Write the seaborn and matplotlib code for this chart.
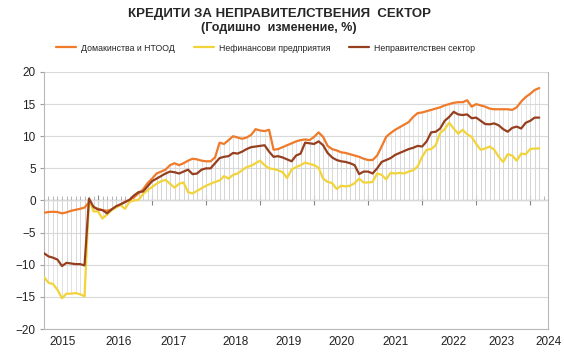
import numpy as np
import pandas as pd
import seaborn as sns
from matplotlib import pyplot as plt
from matplotlib.ticker import MultipleLocator

# monthly data, Jan 2015 - Mar 2024 (annual change, %)
households = [
    -1.9, -1.8, -1.75, -1.8, -2.0, -1.85, -1.6, -1.45, -1.3, -1.1,
    -0.3, -1.0,
    -1.3, -1.5, -1.6, -1.4, -1.0, -0.6, -0.2, 0.1, 0.5, 1.1, 1.7, 2.7,
    3.4, 4.2, 4.5, 4.8, 5.5, 5.8, 5.5, 5.8, 6.2, 6.5, 6.4, 6.2,
    6.1, 6.1, 6.7, 9.0, 8.8, 9.4, 10.0, 9.8, 9.6, 9.8, 10.2, 11.1,
    10.9, 10.8, 11.0, 7.9, 8.0, 8.3, 8.6, 8.9, 9.2, 9.4, 9.5, 9.4,
    9.9, 10.6, 9.9, 8.5, 8.0, 7.8, 7.5, 7.4, 7.2, 7.0, 6.8, 6.5,
    6.3, 6.3, 7.0, 8.4, 9.9, 10.5, 11.0, 11.4, 11.8, 12.2, 13.0, 13.6,
    13.7, 13.9, 14.1, 14.3, 14.5, 14.8, 15.0, 15.2, 15.3, 15.3, 15.6, 14.6,
    15.0, 14.8, 14.6, 14.3, 14.2, 14.2, 14.2, 14.2, 14.1, 14.5, 15.4, 16.1,
    16.6, 17.2, 17.5,
]
corporates = [
    -11.9, -12.8, -13.0, -13.9, -15.2, -14.5, -14.5, -14.4, -14.6, -14.9,
    0.2, -1.7,
    -1.7, -2.8, -2.2, -1.5, -1.1, -0.7, -1.3, -0.2, 0.0, 0.1, 1.0, 1.6,
    2.1, 2.6, 3.0, 3.2, 2.6, 2.0, 2.6, 2.8, 1.3, 1.1, 1.5, 1.9,
    2.3, 2.6, 2.9, 3.1, 3.8, 3.4, 4.0, 4.2, 4.7, 5.2, 5.4, 5.8,
    6.2, 5.5, 5.0, 4.9, 4.7, 4.4, 3.5, 4.8, 5.2, 5.5, 5.9, 5.7,
    5.5, 5.1, 3.4, 2.9, 2.7, 1.8, 2.3, 2.2, 2.3, 2.7, 3.4, 2.8,
    2.8, 2.9, 4.2, 4.0, 3.3, 4.3, 4.2, 4.3, 4.2, 4.5, 4.7, 5.3,
    6.8, 7.9, 8.0, 8.6, 10.5, 11.1, 12.1, 11.2, 10.4, 11.0, 10.3, 9.9,
    8.8, 7.9, 8.1, 8.4, 7.9, 6.8, 6.0, 7.2, 7.0, 6.2, 7.3, 7.2,
    8.0, 8.1, 8.1,
]
nongov = [
    -8.2, -8.7, -8.9, -9.2, -10.2, -9.7, -9.8, -9.9, -9.9, -10.1,
    0.3, -1.0,
    -1.4, -1.5, -2.0, -1.4, -0.9, -0.6, -0.25, 0.1, 0.8, 1.3, 1.4, 2.2,
    3.0, 3.4, 3.8, 4.2, 4.5, 4.4, 4.2, 4.5, 4.8, 4.1, 4.2, 4.8,
    5.0, 5.0, 5.8, 6.6, 6.8, 6.9, 7.4, 7.3, 7.6, 8.0, 8.3, 8.4,
    8.5, 8.6, 7.6, 6.8, 6.9, 6.7, 6.4, 6.1, 7.0, 7.3, 9.0, 8.9,
    8.8, 9.2, 8.6, 7.4, 6.7, 6.3, 6.1, 6.0, 5.8, 5.5, 4.1, 4.5,
    4.5, 4.2, 5.0, 6.0, 6.3, 6.6, 7.1, 7.4, 7.7, 8.0, 8.2, 8.5,
    8.4, 9.2, 10.6, 10.7, 11.2, 12.4, 13.0, 13.8, 13.4, 13.3, 13.4, 12.8,
    12.9, 12.4, 11.9, 11.85, 12.0, 11.7, 11.1, 10.7, 11.3, 11.5, 11.2, 12.1,
    12.4, 12.9, 12.9,
]
series_names = ["Домакинства и НТООД", "Нефинансови предприятия",
                "Неправителствен сектор"]
years = ["2015", "2016", "2017", "2018", "2019", "2020", "2021", "2022",
         "2023", "2024"]
yticks = [-20, -15, -10, -5, 0, 5, 10, 15, 20]

colors = ["#EE7A2A", "#F2D43A", "#963F1F"]
n = len(households)
month = np.arange(n)

df = pd.DataFrame({
    "month": np.tile(month, 3),
    "value": households + corporates + nongov,
    "series": np.repeat(series_names, n),
})

sns.set_style("white")
plt.rcParams["font.family"] = ["Liberation Sans", "DejaVu Sans"]

fig = plt.figure(figsize=(5.64, 3.56), dpi=100)
ax = fig.add_axes([0.078, 0.0758, 0.894, 0.722])

ax.yaxis.grid(True, color="#d9d9d9", linewidth=0.8)
ax.set_axisbelow(True)

# drop lines from each point down/up to the zero axis
for vals in (households, corporates, nongov):
    ax.vlines(month, 0, vals, color="#d6d6d6", linewidth=0.5, zorder=1)

sns.lineplot(data=df, x="month", y="value", hue="series",
             palette=dict(zip(series_names, colors)), linewidth=1.6,
             ax=ax, legend=False, zorder=3)

ax.set_xlim(0, 112)
ax.set_ylim(-20, 20)
ax.set_yticks(yticks)
ax.set_xlabel("")
ax.set_ylabel("")
ax.tick_params(axis="y", labelsize=8.5, length=3, pad=3, left=True,
               color="#a0a0a0", labelcolor="#222222")
for side in ("left", "right", "bottom"):
    ax.spines[side].set_color("#b8b8b8")
    ax.spines[side].set_linewidth(0.8)
ax.spines["top"].set_visible(False)

# year labels under the plot
label_pos = [4.1, 16.5, 28.8, 42.5, 54.3, 66.2, 78.0, 90.9, 101.6, 112.0]
ax.set_xticks(label_pos)
ax.set_xticklabels(years, fontsize=8.5, color="#222222")
ax.tick_params(axis="x", length=0, pad=5)

# category axis at zero with year and month ticks
zax = ax.secondary_xaxis(0.5)
zax.set_xticks(range(12, 112, 12))
zax.xaxis.set_minor_locator(MultipleLocator(1))
zax.tick_params(which="major", direction="inout", length=7, color="#888888",
                labelbottom=False)
zax.tick_params(which="minor", direction="out", length=3, color="#aaaaaa")
zax.set_xticklabels([])
zax.spines["bottom"].set_color("#999999")
zax.spines["bottom"].set_linewidth(0.9)

fig.text(0.495, 0.962, "КРЕДИТИ ЗА НЕПРАВИТЕЛСТВЕНИЯ  СЕКТОР",
         ha="center", va="center", fontsize=9.5, fontweight="bold")
fig.text(0.495, 0.922, "(Годишно  изменение, %)",
         ha="center", va="center", fontsize=9, fontweight="bold")

handles = [plt.Line2D([], [], color=c, linewidth=1.6) for c in colors]
fig.legend(handles, series_names, loc="center", ncol=3,
           bbox_to_anchor=(0.471, 0.865), frameon=False, fontsize=6.3,
           handlelength=2.3, handletextpad=0.6, columnspacing=2.1)

plt.savefig("out.png", dpi=100)
